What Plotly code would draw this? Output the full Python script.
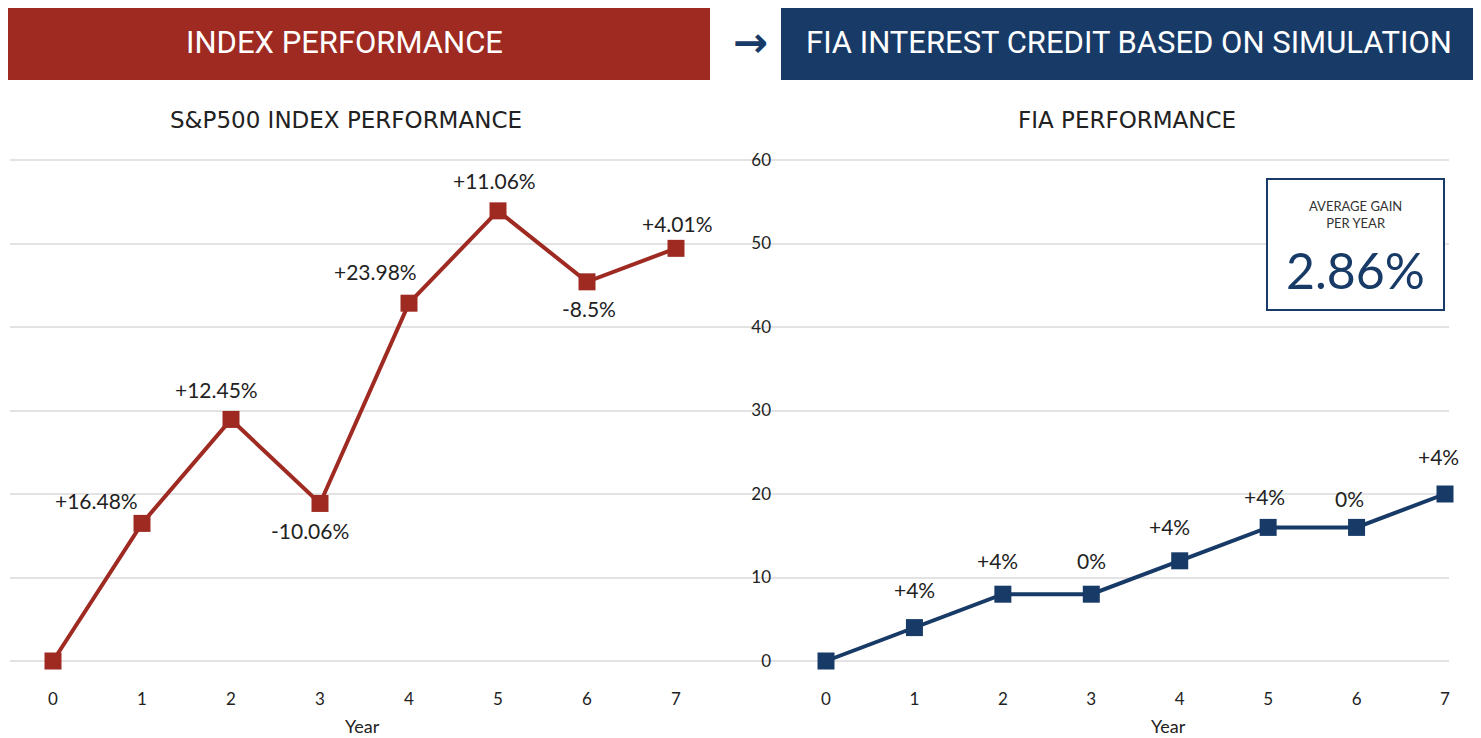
import plotly.graph_objects as go

# page is rendered with an 8px body margin, so the figure is 8px smaller
OFF = 8
W, H = 1481 - OFF, 738 - OFF

years = [0, 1, 2, 3, 4, 5, 6, 7]
sp500_cum = [0, 16.48, 28.93, 18.87, 42.85, 53.91, 45.41, 49.42]
sp500_labels = ["", "+16.48%", "+12.45%", "-10.06%", "+23.98%", "+11.06%", "-8.5%", "+4.01%"]
fia_cum = [0, 4, 8, 8, 12, 16, 16, 20]
fia_labels = ["", "+4%", "+4%", "0%", "+4%", "+4%", "0%", "+4%"]
y_ticks = [0, 10, 20, 30, 40, 50, 60]
avg_gain = "2.86%"

RED = "#9E2A22"
BLUE = "#173A67"
TXT = "#222222"
GRID = "#e3e3e3"
FONT = "Lato"

# label offsets (px) relative to markers: (xshift, yshift)
sp_off = [(0, 0), (-46, 23), (-15, 30), (-10, -27), (-34, 32), (-4, 30), (2, -27), (1, 25)]
fia_off = [(0, 0), (0, 38), (-5, 34), (0, 34), (-10, 34), (-4, 31), (-7, 29), (-7, 38)]


def px(p):
    return (p - OFF) / W


def py(p):
    return 1 - (p - OFF) / H


fig = go.Figure()
fig.add_trace(go.Scatter(x=years, y=sp500_cum, mode="lines+markers", xaxis="x", yaxis="y",
                         line=dict(color=RED, width=4),
                         marker=dict(symbol="square", size=17, color=RED),
                         cliponaxis=False, hoverinfo="skip", showlegend=False))
fig.add_trace(go.Scatter(x=years, y=fia_cum, mode="lines+markers", xaxis="x2", yaxis="y2",
                         line=dict(color=BLUE, width=4),
                         marker=dict(symbol="square", size=17, color=BLUE),
                         cliponaxis=False, hoverinfo="skip", showlegend=False))

ann = []
for x, y, t, (dx, dy) in zip(years, sp500_cum, sp500_labels, sp_off):
    if t:
        ann.append(dict(x=x, y=y, xref="x", yref="y", text=t, showarrow=False,
                        xanchor="center", yanchor="middle",
                        xshift=dx, yshift=dy, font=dict(family=FONT, size=21, color=TXT)))
for x, y, t, (dx, dy) in zip(years, fia_cum, fia_labels, fia_off):
    if t:
        ann.append(dict(x=x, y=y, xref="x2", yref="y2", text=t, showarrow=False,
                        xanchor="center", yanchor="middle",
                        xshift=dx, yshift=dy, font=dict(family=FONT, size=21, color=TXT)))


def txt(x, y, text, size, color, family="Roboto"):
    return dict(x=px(x), y=py(y), xref="paper", yref="paper", text=text, showarrow=False,
                xanchor="center", yanchor="middle", font=dict(family=family, size=size, color=color))


ann += [
    txt(344, 43, "INDEX PERFORMANCE", 31, "white"),
    txt(1129, 43, "FIA INTEREST CREDIT BASED ON SIMULATION", 31, "white"),
    txt(750, 42, "<b>→</b>", 42, BLUE, "DejaVu Sans"),
    txt(346, 120, "S&P500 INDEX PERFORMANCE", 23, TXT, "DejaVu Sans"),
    txt(1127, 120, "FIA PERFORMANCE", 23, TXT, "DejaVu Sans"),
    txt(362, 726, "Year", 18, TXT, FONT),
    txt(1168, 726, "Year", 18, TXT, FONT),
    txt(1355, 214, "AVERAGE GAIN<br>PER YEAR", 13, "#333333", FONT),
    txt(1355, 270, avg_gain, 50, BLUE, FONT),
]

shapes = [
    dict(type="rect", xref="paper", yref="paper", x0=px(4), x1=px(710), y0=py(80), y1=py(8),
         fillcolor=RED, line=dict(width=0), layer="below"),
    dict(type="rect", xref="paper", yref="paper", x0=px(781), x1=px(1473), y0=py(80), y1=py(8),
         fillcolor=BLUE, line=dict(width=0), layer="below"),
    dict(type="rect", xref="paper", yref="paper", x0=px(1267), x1=px(1444), y0=py(310), y1=py(179),
         fillcolor="white", line=dict(color=BLUE, width=2), layer="above"),
]

# geometry (page pixels): y=0 at 661, y=60 at 160 -> 8.35 px per unit
ppu = (661 - 160) / 60
yd = [py(661 + ppu), py(160 - ppu)]
split = 772
xaxis_common = dict(tickvals=years, showgrid=False, zeroline=False, showline=False,
                    ticks="outside", ticklen=14, tickcolor="rgba(0,0,0,0)",
                    tickfont=dict(family=FONT, size=17, color=TXT), automargin=False,
                    fixedrange=True)
yaxis_common = dict(range=[-1, 61], tickvals=y_ticks, showgrid=True, gridcolor=GRID, gridwidth=1.5,
                    zeroline=False, showline=False, automargin=False, fixedrange=True, domain=yd)

fig.update_layout(
    width=W, height=H,
    margin=dict(l=0, r=0, t=0, b=0),
    paper_bgcolor="white", plot_bgcolor="white",
    xaxis=dict(domain=[px(10), px(split)], range=[-43 / 89, (split - 53) / 89], anchor="y", **xaxis_common),
    xaxis2=dict(domain=[px(split), px(1449)], range=[-(826 - split) / 88.43, 7 + 4 / 88.43], anchor="y2",
                **xaxis_common),
    yaxis=dict(anchor="x", showticklabels=False, **yaxis_common),
    yaxis2=dict(anchor="x2", showticklabels=True, ticks="", ticklabelstandoff=0,
                tickfont=dict(family=FONT, size=17, color=TXT), **yaxis_common),
    annotations=ann,
    shapes=shapes,
)

fig.write_html("out.html")
